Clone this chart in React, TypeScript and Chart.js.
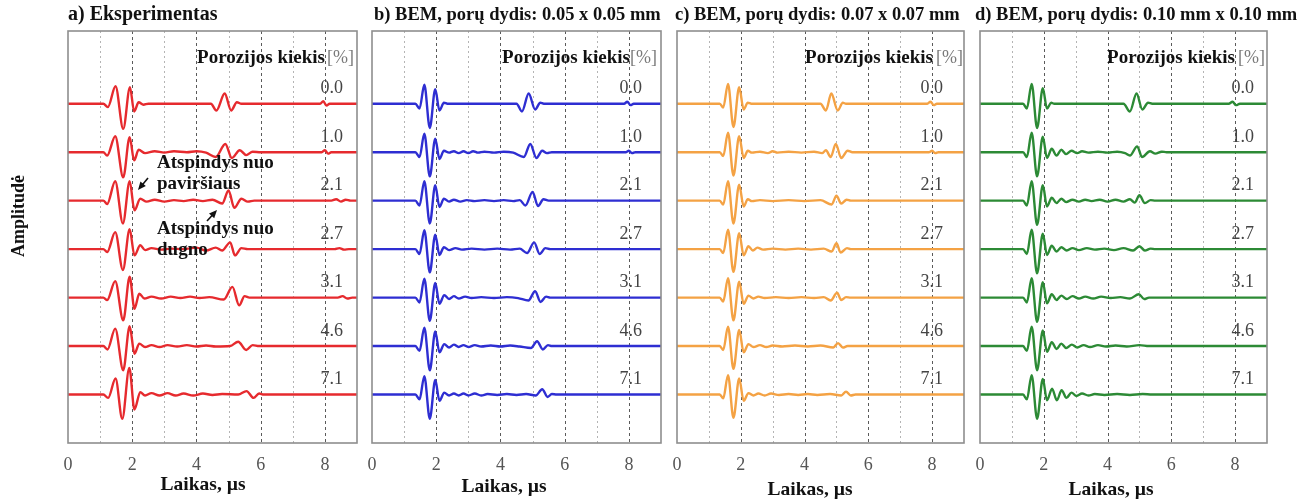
import React, { useEffect, useRef } from 'react';
import { Chart, registerables } from 'chart.js';

Chart.register(...registerables);

const FONT = '"Liberation Serif", "Times New Roman", serif';

// ---- labels ----
const porosityLabels = ['0.0', '1.0', '2.1', '2.7', '3.1', '4.6', '7.1'];
const xMin = 0;
const xMax = 9;

// ---- a) Eksperimentas : [time µs, amplitude] ----
const exp0 = [[0,0],[1.1,0],[1.24,-0.07],[1.48,0.36],[1.72,-0.52],[1.93,0.34],[2.06,-0.16],[2.2,0.03],[2.35,-0.02],[2.5,0],[4.45,0],[4.62,-0.14],[4.88,0.21],[5.08,-0.14],[5.26,0.03],[5.4,0],[7.85,0],[7.95,0.05],[8.05,-0.04],[8.15,0],[9,0]];
const exp1 = [[0,0],[1.1,0],[1.22,-0.07],[1.47,0.33],[1.72,-0.52],[1.92,0.31],[2.06,-0.17],[2.2,0.05],[2.4,-0.02],[2.7,0.02],[3.0,-0.01],[3.3,0.02],[3.7,0],[4.0,0.02],[4.3,-0.01],[4.6,-0.1],[4.9,0.17],[5.1,-0.12],[5.35,0.04],[5.55,-0.06],[5.75,0.01],[6,0],[7.9,0],[8.0,0.04],[8.1,-0.03],[8.2,0],[9,0]];
const exp2 = [[0,0],[1.1,0],[1.22,-0.07],[1.47,0.4],[1.71,-0.47],[1.92,0.4],[2.07,-0.2],[2.25,0.04],[2.45,-0.02],[2.7,0.02],[3.0,-0.02],[3.3,0.01],[3.6,-0.01],[3.9,0.02],[4.2,-0.01],[4.5,0.02],[4.8,-0.06],[5.0,0.21],[5.18,-0.15],[5.4,0.04],[5.6,-0.02],[5.8,0],[8.2,0],[8.35,0.03],[8.5,-0.02],[8.65,0.02],[8.8,0],[9,0]];
const exp3 = [[0,0],[1.1,0],[1.22,-0.06],[1.47,0.35],[1.71,-0.43],[1.92,0.41],[2.07,-0.13],[2.25,0.08],[2.4,-0.02],[2.6,0.02],[2.9,-0.01],[3.2,0.01],[3.6,0],[4.0,0.03],[4.3,-0.03],[4.6,0.03],[4.8,-0.03],[5.05,0.14],[5.2,-0.13],[5.4,0.02],[5.6,0],[8.3,0],[8.45,0.02],[8.6,-0.01],[8.75,0],[9,0]];
const exp4 = [[0,0],[1.1,0],[1.22,-0.05],[1.47,0.34],[1.72,-0.47],[1.92,0.43],[2.07,-0.23],[2.22,0.08],[2.38,-0.02],[2.6,0.02],[2.9,-0.02],[3.2,0.02],[3.5,-0.01],[3.8,0.02],[4.1,-0.01],[4.4,0.01],[4.85,-0.04],[5.12,0.22],[5.33,-0.16],[5.5,0.03],[5.65,0],[8.4,0],[8.55,0.03],[8.7,-0.02],[8.85,0],[9,0]];
const exp5 = [[0,0],[1.1,0],[1.23,-0.07],[1.47,0.36],[1.72,-0.5],[1.92,0.41],[2.07,-0.16],[2.22,0.05],[2.4,-0.02],[2.6,0.02],[2.85,-0.02],[3.1,0.02],[3.4,-0.01],[3.7,0.02],[4.0,-0.01],[4.3,0.01],[4.6,-0.01],[5.05,0],[5.3,0.09],[5.55,-0.08],[5.75,0.02],[5.95,0],[9,0]];
const exp6 = [[0,0],[1.1,0],[1.25,-0.07],[1.48,0.33],[1.69,-0.5],[1.91,0.55],[2.07,-0.31],[2.25,0.05],[2.4,-0.02],[2.6,0.03],[2.85,-0.02],[3.1,0.03],[3.35,-0.02],[3.6,0.02],[3.9,-0.02],[4.2,0.02],[4.5,-0.01],[4.8,0.01],[5.3,0],[5.56,0.07],[5.78,-0.07],[5.95,0.02],[6.1,0],[9,0]];

// ---- b) BEM 0.05 x 0.05 mm ----
const bemB0 = [[0,0],[1.35,0],[1.48,-0.1],[1.63,0.39],[1.8,-0.5],[1.97,0.3],[2.1,-0.14],[2.24,0.02],[2.35,0],[4.5,0],[4.67,-0.16],[4.88,0.21],[5.08,-0.12],[5.24,0.02],[5.35,0],[7.85,0],[7.95,0.04],[8.05,-0.03],[8.15,0],[9,0]];
const bemB1 = [[0,0],[1.35,0],[1.48,-0.1],[1.63,0.38],[1.8,-0.5],[1.97,0.28],[2.1,-0.14],[2.24,0.03],[2.4,-0.01],[2.55,0.02],[2.7,-0.02],[2.85,0.02],[3.0,-0.02],[3.15,0.02],[3.3,-0.01],[3.5,0.01],[3.8,-0.01],[4.1,0.01],[4.4,-0.01],[4.73,-0.1],[4.93,0.17],[5.12,-0.12],[5.3,0.03],[5.45,-0.02],[5.6,0],[7.9,0],[8.0,0.03],[8.1,-0.02],[8.2,0],[9,0]];
const bemB2 = [[0,0],[1.35,0],[1.48,-0.1],[1.63,0.4],[1.8,-0.47],[1.97,0.32],[2.1,-0.13],[2.24,0.04],[2.4,-0.02],[2.55,0.02],[2.75,-0.02],[2.95,0.01],[3.2,-0.01],[3.5,0.01],[3.8,-0.01],[4.1,0.01],[4.4,-0.01],[4.6,0.01],[4.78,-0.1],[5.0,0.18],[5.17,-0.11],[5.34,0.03],[5.5,0],[9,0]];
const bemB3 = [[0,0],[1.35,0],[1.48,-0.1],[1.63,0.39],[1.8,-0.48],[1.97,0.3],[2.1,-0.12],[2.24,0.04],[2.4,-0.02],[2.6,0.02],[2.8,-0.01],[3.1,0.01],[3.5,-0.01],[3.9,0.01],[4.3,-0.01],[4.6,0.01],[4.83,-0.08],[5.05,0.14],[5.22,-0.1],[5.4,0.02],[5.55,0],[9,0]];
const bemB4 = [[0,0],[1.35,0],[1.48,-0.1],[1.63,0.39],[1.8,-0.48],[1.97,0.3],[2.1,-0.13],[2.25,0.05],[2.4,-0.03],[2.55,0.03],[2.7,-0.02],[2.9,0.02],[3.1,-0.01],[3.4,0.01],[3.8,-0.01],[4.2,0.01],[4.55,-0.01],[4.87,-0.06],[5.08,0.13],[5.25,-0.09],[5.42,0.02],[5.55,0],[9,0]];
const bemB5 = [[0,0],[1.35,0],[1.48,-0.1],[1.63,0.38],[1.8,-0.5],[1.97,0.3],[2.1,-0.13],[2.25,0.04],[2.4,-0.03],[2.55,0.03],[2.7,-0.02],[2.85,0.02],[3.0,-0.02],[3.2,0.02],[3.4,-0.01],[3.7,0.01],[4.0,-0.01],[4.3,0.01],[4.6,-0.01],[4.95,-0.04],[5.14,0.1],[5.32,-0.07],[5.48,0.02],[5.6,0],[9,0]];
const bemB6 = [[0,0],[1.35,0],[1.48,-0.1],[1.63,0.38],[1.8,-0.5],[1.97,0.3],[2.1,-0.13],[2.25,0.04],[2.4,-0.02],[2.55,0.02],[2.7,-0.02],[2.85,0.02],[3.0,-0.02],[3.2,0.02],[3.4,-0.02],[3.6,0.01],[3.9,-0.01],[4.2,0.01],[4.5,-0.01],[4.8,0.01],[5.1,-0.02],[5.3,0.11],[5.47,-0.05],[5.6,0.01],[5.75,0],[9,0]];

// ---- c) BEM 0.07 x 0.07 mm ----
const bemC0 = [[0,0],[1.34,0],[1.45,-0.08],[1.6,0.41],[1.77,-0.48],[1.95,0.34],[2.09,-0.12],[2.22,0.02],[2.33,0],[4.5,0],[4.67,-0.14],[4.84,0.21],[5.04,-0.14],[5.2,0.02],[5.3,0],[7.85,0],[7.95,0.04],[8.05,-0.03],[8.15,0],[9,0]];
const bemC1 = [[0,0],[1.34,0],[1.45,-0.08],[1.6,0.4],[1.77,-0.48],[1.95,0.33],[2.09,-0.12],[2.22,0.03],[2.35,-0.01],[2.6,0.01],[2.85,-0.02],[3.0,0.02],[3.15,-0.01],[3.5,0.01],[3.9,-0.01],[4.3,0.01],[4.55,-0.02],[4.67,0.04],[4.82,-0.1],[4.98,0.17],[5.15,-0.12],[5.35,0.03],[5.5,0],[7.9,0],[8.0,0.03],[8.1,-0.02],[8.2,0],[9,0]];
const bemC2 = [[0,0],[1.34,0],[1.45,-0.08],[1.6,0.4],[1.77,-0.47],[1.95,0.33],[2.09,-0.12],[2.22,0.03],[2.35,-0.01],[2.6,0.01],[3.0,-0.01],[3.5,0.01],[4.0,-0.01],[4.5,0.01],[4.85,-0.08],[5.0,0.1],[5.15,-0.06],[5.32,0.02],[5.45,0],[9,0]];
const bemC3 = [[0,0],[1.34,0],[1.45,-0.08],[1.6,0.4],[1.77,-0.47],[1.95,0.33],[2.09,-0.13],[2.24,0.06],[2.38,-0.03],[2.52,0.03],[2.7,-0.01],[3.0,0.01],[3.4,-0.01],[3.8,0.01],[4.2,-0.01],[4.6,0.01],[4.85,-0.05],[5.0,0.12],[5.13,-0.07],[5.33,0.02],[5.45,0],[9,0]];
const bemC4 = [[0,0],[1.34,0],[1.45,-0.08],[1.6,0.4],[1.77,-0.47],[1.95,0.33],[2.09,-0.13],[2.24,0.04],[2.4,-0.02],[2.55,0.02],[2.75,-0.01],[3.1,0.01],[3.5,-0.01],[3.9,0.01],[4.3,-0.01],[4.6,0.01],[4.82,-0.06],[5.02,0.1],[5.15,-0.05],[5.3,0.01],[5.45,0],[9,0]];
const bemC5 = [[0,0],[1.34,0],[1.45,-0.08],[1.6,0.4],[1.77,-0.47],[1.95,0.33],[2.09,-0.13],[2.24,0.04],[2.4,-0.02],[2.6,0.02],[2.8,-0.02],[3.0,0.01],[3.3,-0.01],[3.7,0.01],[4.1,-0.01],[4.5,0.01],[4.9,-0.03],[5.05,0.06],[5.2,-0.03],[5.35,0],[9,0]];
const bemC6 = [[0,0],[1.34,0],[1.45,-0.08],[1.6,0.4],[1.77,-0.48],[1.95,0.33],[2.09,-0.13],[2.24,0.03],[2.4,-0.02],[2.55,0.02],[2.75,-0.02],[2.95,0.02],[3.2,-0.01],[3.5,0.01],[3.8,-0.01],[4.1,0.01],[4.4,-0.01],[4.8,0.01],[5.15,-0.02],[5.3,0.06],[5.45,-0.02],[5.6,0],[9,0]];

// ---- d) BEM 0.10 x 0.10 mm ----
const bemD0 = [[0,0],[1.35,0],[1.47,-0.1],[1.62,0.41],[1.79,-0.5],[1.97,0.32],[2.1,-0.1],[2.23,0.02],[2.33,0],[4.5,0],[4.7,-0.16],[4.91,0.21],[5.09,-0.12],[5.27,0.02],[5.4,0],[7.8,0],[7.92,0.04],[8.03,-0.03],[8.15,0],[9,0]];
const bemD1 = [[0,0],[1.35,0],[1.47,-0.1],[1.62,0.4],[1.79,-0.5],[1.97,0.32],[2.1,-0.12],[2.25,0.07],[2.4,-0.07],[2.55,0.05],[2.7,-0.04],[2.87,0.03],[3.05,-0.02],[3.2,0.02],[3.4,-0.01],[3.7,0.01],[4.0,-0.01],[4.3,0.01],[4.55,-0.02],[4.7,-0.07],[4.93,0.12],[5.08,-0.1],[5.33,0.02],[5.5,-0.03],[5.7,0.01],[5.85,0],[9,0]];
const bemD2 = [[0,0],[1.35,0],[1.47,-0.1],[1.62,0.4],[1.79,-0.5],[1.97,0.32],[2.1,-0.12],[2.25,0.06],[2.4,-0.05],[2.55,0.04],[2.7,-0.03],[2.9,0.02],[3.1,-0.02],[3.3,0.02],[3.5,-0.01],[3.75,0.02],[4.0,-0.02],[4.25,0.02],[4.5,-0.02],[4.7,0.03],[4.85,-0.04],[5.0,0.11],[5.17,-0.05],[5.35,0.01],[5.5,0],[9,0]];
const bemD3 = [[0,0],[1.35,0],[1.47,-0.1],[1.62,0.4],[1.79,-0.5],[1.97,0.32],[2.1,-0.12],[2.25,0.07],[2.4,-0.05],[2.55,0.04],[2.72,-0.03],[2.9,0.02],[3.1,-0.02],[3.35,0.02],[3.6,-0.01],[3.9,0.01],[4.2,-0.02],[4.5,0.02],[4.8,-0.03],[5.0,0.06],[5.17,-0.03],[5.35,0.01],[5.5,0],[9,0]];
const bemD4 = [[0,0],[1.35,0],[1.47,-0.1],[1.62,0.4],[1.79,-0.5],[1.97,0.32],[2.1,-0.12],[2.25,0.07],[2.4,-0.05],[2.55,0.04],[2.72,-0.03],[2.9,0.03],[3.1,-0.02],[3.3,0.02],[3.55,-0.02],[3.8,0.02],[4.1,-0.01],[4.4,0.01],[4.7,-0.02],[4.98,0.07],[5.15,-0.03],[5.3,0],[9,0]];
const bemD5 = [[0,0],[1.35,0],[1.47,-0.1],[1.62,0.4],[1.79,-0.5],[1.97,0.32],[2.1,-0.12],[2.25,0.08],[2.4,-0.06],[2.55,0.05],[2.7,-0.04],[2.88,0.03],[3.05,-0.03],[3.25,0.02],[3.45,-0.02],[3.7,0.02],[3.95,-0.01],[4.25,0.01],[4.6,-0.01],[5.0,0.02],[5.3,0],[9,0]];
const bemD6 = [[0,0],[1.35,0],[1.47,-0.1],[1.62,0.4],[1.79,-0.5],[1.97,0.32],[2.1,-0.12],[2.26,0.12],[2.41,-0.12],[2.56,0.09],[2.71,-0.07],[2.87,0.04],[3.02,-0.03],[3.2,0.02],[3.4,-0.02],[3.6,0.01],[3.9,-0.01],[4.3,0.01],[4.7,-0.01],[5.1,0.01],[5.4,0],[9,0]];

const expSeries = [exp0, exp1, exp2, exp3, exp4, exp5, exp6];
const bemBSeries = [bemB0, bemB1, bemB2, bemB3, bemB4, bemB5, bemB6];
const bemCSeries = [bemC0, bemC1, bemC2, bemC3, bemC4, bemC5, bemC6];
const bemDSeries = [bemD0, bemD1, bemD2, bemD3, bemD4, bemD5, bemD6];

// ---- layout / style of the four panels ----
type PanelSpec = {
  key: string; title: string; titleSize: number; color: string; series: number[][][];
  left: number; right: number; titleX: number; pctRight: number; pctGap: number;
  valRight: number; laikasX: number; laikasY: number; extras: boolean;
};

const panels: PanelSpec[] = [
  { key: 'a', title: 'a) Eksperimentas', titleSize: 20, color: '#e62a2e', series: expSeries, left: 68, right: 357, titleX: 68, pctRight: 354, pctGap: 2, valRight: 343, laikasX: 203, laikasY: 485, extras: true },
  { key: 'b', title: 'b) BEM, porų dydis: 0.05 x 0.05 mm', titleSize: 18.5, color: '#2e2ed2', series: bemBSeries, left: 372, right: 661, titleX: 374, pctRight: 657, pctGap: 0, valRight: 642, laikasX: 504, laikasY: 487, extras: false },
  { key: 'c', title: 'c) BEM, porų dydis: 0.07 x 0.07 mm', titleSize: 18.5, color: '#f4a244', series: bemCSeries, left: 677, right: 964, titleX: 675, pctRight: 963, pctGap: 3, valRight: 943, laikasX: 810, laikasY: 490, extras: false },
  { key: 'd', title: 'd) BEM, porų dydis: 0.10 mm x 0.10 mm', titleSize: 18.5, color: '#2c8a35', series: bemDSeries, left: 980, right: 1267, titleX: 975, pctRight: 1265, pctGap: 3, valRight: 1254, laikasX: 1111, laikasY: 490, extras: false },
];

const W = 1309;
const H = 501;

function drawArrow(ctx: CanvasRenderingContext2D, x1: number, y1: number, x2: number, y2: number) {
  const ang = Math.atan2(y2 - y1, x2 - x1);
  ctx.save();
  ctx.strokeStyle = '#111';
  ctx.fillStyle = '#111';
  ctx.lineWidth = 1.6;
  ctx.beginPath();
  ctx.moveTo(x1, y1);
  ctx.lineTo(x2 - 4 * Math.cos(ang), y2 - 4 * Math.sin(ang));
  ctx.stroke();
  ctx.beginPath();
  ctx.moveTo(x2, y2);
  ctx.lineTo(x2 - 8 * Math.cos(ang) + 3.5 * Math.sin(ang), y2 - 8 * Math.sin(ang) - 3.5 * Math.cos(ang));
  ctx.lineTo(x2 - 8 * Math.cos(ang) - 3.5 * Math.sin(ang), y2 - 8 * Math.sin(ang) + 3.5 * Math.cos(ang));
  ctx.closePath();
  ctx.fill();
  ctx.restore();
}

function makeDeco(spec: PanelSpec) {
  return {
    id: 'deco_' + spec.key,
    beforeDatasetsDraw(chart: any) {
      const { ctx, chartArea } = chart;
      const xs = chart.scales.x;
      ctx.save();
      for (let t = 1; t <= 8; t++) {
        const px = Math.round(xs.getPixelForValue(t)) + 0.5;
        const even = t % 2 === 0;
        ctx.strokeStyle = even ? '#5a5a5a' : '#b4b4b4';
        ctx.lineWidth = 1;
        ctx.setLineDash(even ? [3, 3] : [2, 3]);
        ctx.beginPath();
        ctx.moveTo(px, chartArea.top);
        ctx.lineTo(px, chartArea.bottom);
        ctx.stroke();
      }
      ctx.restore();
    },
    afterDraw(chart: any) {
      const { ctx, chartArea } = chart;
      const ys = chart.scales.y;
      ctx.save();
      // frame
      ctx.strokeStyle = '#8e8e8e';
      ctx.lineWidth = 1.6;
      ctx.setLineDash([]);
      ctx.strokeRect(chartArea.left, chartArea.top, chartArea.right - chartArea.left, chartArea.bottom - chartArea.top);

      // title
      ctx.fillStyle = '#111';
      ctx.textBaseline = 'middle';
      ctx.textAlign = 'left';
      ctx.font = `bold ${spec.titleSize}px ${FONT}`;
      ctx.fillText(spec.title, spec.titleX, 15);

      // legend heading
      ctx.font = `18px ${FONT}`;
      const pctW = ctx.measureText('[%]').width;
      ctx.fillStyle = '#7a7a7a';
      ctx.textAlign = 'right';
      ctx.fillText('[%]', spec.pctRight, 58);
      ctx.font = `bold 19px ${FONT}`;
      ctx.fillStyle = '#111';
      ctx.fillText('Porozijos kiekis', spec.pctRight - pctW - spec.pctGap, 58);

      // porosity values
      ctx.font = `18px ${FONT}`;
      ctx.fillStyle = '#444';
      porosityLabels.forEach((lab, i) => {
        ctx.fillText(lab, spec.valRight, ys.getPixelForValue(-i) - 15);
      });

      // x title
      ctx.font = `bold 19.5px ${FONT}`;
      ctx.fillStyle = '#111';
      ctx.textAlign = 'center';
      ctx.fillText('Laikas, µs', spec.laikasX, spec.laikasY);

      if (spec.extras) {
        ctx.save();
        ctx.translate(19, 216);
        ctx.rotate(-Math.PI / 2);
        ctx.textAlign = 'center';
        ctx.font = `bold 18px ${FONT}`;
        ctx.fillText('Amplitudė', 0, 0);
        ctx.restore();

        ctx.textAlign = 'left';
        ctx.font = `bold 19px ${FONT}`;
        ctx.fillStyle = '#111';
        ctx.fillText('Atspindys nuo', 157, 163);
        ctx.fillText('paviršiaus', 157, 184);
        ctx.fillText('Atspindys nuo', 157, 229);
        ctx.fillText('dugno', 157, 250);
        drawArrow(ctx, 148, 178, 138, 190);
        drawArrow(ctx, 207, 221, 217, 210);
      }
      ctx.restore();
    },
  };
}

function Panel({ spec }: { spec: PanelSpec }) {
  const ref = useRef<HTMLCanvasElement>(null);
  useEffect(() => {
    const datasets = spec.series.map((tr, i) => ({
      label: porosityLabels[i],
      data: tr.map(([t, v]) => ({ x: t, y: v - i })),
      borderColor: spec.color,
      borderWidth: 2.4,
      pointRadius: 0,
      fill: false,
      cubicInterpolationMode: 'monotone' as const,
    }));
    const chart = new Chart(ref.current as HTMLCanvasElement, {
      type: 'line',
      data: { datasets },
      options: {
        animation: false,
        responsive: true,
        maintainAspectRatio: false,
        events: [],
        layout: { padding: { left: spec.left, right: W - spec.right, top: 31, bottom: 0 } },
        plugins: { legend: { display: false }, title: { display: false }, tooltip: { enabled: false } },
        scales: {
          x: {
            type: 'linear',
            min: xMin,
            max: xMax,
            grid: { display: false },
            border: { display: false },
            ticks: {
              stepSize: 1,
              autoSkip: false,
              maxRotation: 0,
              padding: 3,
              color: '#555',
              font: { family: FONT, size: 18 },
              callback: (v: any) => (Number(v) % 2 === 0 && Number(v) < xMax ? String(v) : ''),
            },
            afterFit: (s: any) => {
              s.height = 58;
              s.paddingLeft = 0;
              s.paddingRight = 0;
            },
          },
          y: { type: 'linear', min: -7, max: 1.5, display: false },
        },
      },
      plugins: [makeDeco(spec)],
    });
    return () => chart.destroy();
  }, [spec]);
  return (
    <div style={{ position: 'absolute', left: 0, top: 0, width: W, height: H }}>
      <canvas ref={ref} />
    </div>
  );
}

export default function App() {
  return (
    <div style={{ position: 'absolute', left: 0, top: 0, width: W, height: H, background: '#fff' }}>
      {panels.map((p) => (
        <Panel key={p.key} spec={p} />
      ))}
    </div>
  );
}
